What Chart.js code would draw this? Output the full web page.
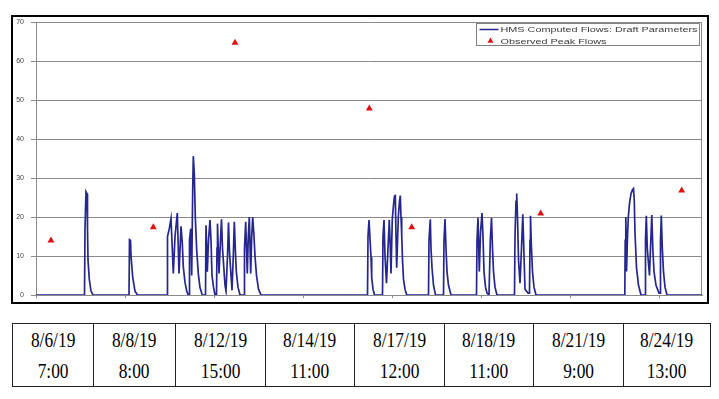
<!DOCTYPE html>
<html lang="en">
<head>
    <meta charset="UTF-8">
    <title>HMS Computed Flows vs Observed Peaks</title>
    <style>
        body {
            margin: 0;
            background: #fff;
            width: 719px;
            height: 399px;
            position: relative;
            overflow: hidden;
        }
        #frame {
            position: absolute;
            left: 11px;
            top: 15px;
            width: 694px;
            height: 285px;
            border: 2px solid #000;
            background: #fff;
        }
        #peaks {
            position: absolute;
            left: 12px;
            top: 323px;
            width: 698px;
            border-collapse: collapse;
            table-layout: fixed;
        }
        #peaks td {
            border: 1px solid #222;
            height: 61px;
            padding: 0;
            text-align: center;
            vertical-align: middle;
            font-family: "Liberation Serif", "Times New Roman", serif;
            font-size: 22px;
            line-height: 31px;
            color: #000;
        }
        #peaks td span {
            display: inline-block;
            transform: scaleX(0.79);
        }
    </style>
</head>
<body>
    <div id="frame"><canvas id="flows"></canvas></div>
    <table id="peaks"><colgroup id="cols"></colgroup><tr id="peakRow"></tr></table>

    <script src="https://cdn.jsdelivr.net/npm/chart.js"></script>
    <script>
        // time index along the x axis (one tick every 89 units)
        const flowT = [
            0,
            48.5, 49, 50, 51, 51.5, 52, 53.3, 55, 57,
            93, 93.5, 94.5, 95, 96.7, 99, 101.5,
            131.3, 131.5, 133.3, 135, 137.3, 139, 141.3, 143, 145, 146.3, 147.3, 149, 150.7, 152.3,
            153.3, 153.5, 154.7, 155.7, 156.7, 157.3, 158.3, 159.3, 160.7, 162.3, 164, 166.3,
            169.5, 170, 171.3, 172.5, 174, 175, 176, 177.5, 179,
            180.5, 181, 181.5, 183, 184.5, 185.5, 186.5, 189, 190, 191.5, 192.5, 193.5, 196, 197.3, 198.3, 199.3, 200.3, 202, 204,
            208, 208.5, 209.7, 211.3, 212.3, 213.3, 214.7, 215.7, 216.7, 218, 219, 220.5, 222.5, 225,
            331.5, 332, 333, 334, 335, 335.7, 337, 338.5,
            346.5, 347, 348, 349, 350.5, 352, 353.3, 354.3, 355, 356.3, 357.5, 358.5, 359.3, 360, 360.7, 362.3, 363.5, 364.3, 365, 365.7, 366.5, 367.5, 369, 370.7,
            392.5, 393, 394.3, 395, 396, 397.5, 399.5,
            407.5, 408, 409, 410, 411, 412.5, 415,
            440.5, 441, 442, 443.3, 444.5, 446, 447, 448, 449.5, 451, 453,
            453.7, 454.3, 455.5, 456.5, 457.5, 459, 461,
            478.5, 479, 480, 480.7, 481.5, 482.5, 484, 485.5, 486.8, 487.8, 489, 492, 493.5, 494, 494.5, 495.3, 496.5, 498, 500,
            588.8, 589.2, 589.8, 590.5, 591.5, 592.3, 593.5, 595, 596.5, 597.5, 598.3, 599, 600.5, 602.5, 605,
            609, 609.5, 610.3, 611.3, 612.5, 613.5, 614.8, 615.8, 616.8, 618, 620, 623, 624, 624.5, 625.3, 626.3, 627.5, 629, 631,
            666
        ];
        // computed flow, same order as flowT
        const flowQ = [
            0,
            0, 17, 26.5, 26, 17, 9, 4, 1, 0,
            0, 14.2, 14, 10, 4.6, 1, 0,
            0, 15, 17, 19.6, 5.5, 14.9, 21, 5.5, 17.6, 13.2, 7.2, 3.3, 1, 0,
            0, 14, 17, 5, 26.8, 35.6, 31, 20, 11.5, 5.5, 1.9, 0,
            0, 17.9, 6, 14, 19.2, 14, 5, 2, 0,
            0, 12, 18.3, 5.5, 14, 19.4, 12, 2.5, 1, 10, 18.6, 11, 1.2, 10, 18.8, 12, 6, 2, 0,
            0, 12, 18.8, 5.5, 15, 20, 5.5, 15, 20, 15, 10, 5, 1.5, 0,
            0, 15, 19.2, 14.5, 9.7, 4.5, 1.5, 0,
            0, 15, 19.2, 10, 3, 12, 19.3, 12, 5.5, 19.5, 23, 25.4, 25.5, 15, 7, 20, 24, 25.5, 20, 15.5, 9, 4, 1.5, 0,
            0, 14, 19.4, 12, 7, 2.5, 0,
            0, 14, 19.5, 12, 6, 2.5, 0,
            0, 14, 19.8, 6, 16, 21, 15, 6, 2, 0.5, 0,
            0, 14, 19.8, 12, 6, 2, 0,
            0, 15, 24, 26, 20, 9, 3, 12, 20.7, 12, 1.5, 0.5, 0.5, 14, 20.3, 13, 6, 2, 0,
            0, 14, 20, 6, 15, 20, 23.5, 26, 27, 27.3, 24, 16, 7, 2.5, 0,
            0, 14, 20.3, 12, 8, 5, 14, 20.5, 12, 6, 2.5, 0.5, 0.5, 14, 20.4, 12, 6, 2, 0,
            0
        ];

        const peakT = [15, 117.3, 199, 333.3, 375.7, 504.7, 645.7];
        const peakQ = [14, 17.4, 64.7, 47.8, 17.4, 20.9, 26.8];

        const peakDates = ['8/6/19', '8/8/19', '8/12/19', '8/14/19', '8/17/19', '8/18/19', '8/21/19', '8/24/19'];
        const peakTimes = ['7:00', '8:00', '15:00', '11:00', '12:00', '11:00', '9:00', '13:00'];
        const colWidths = [81, 82, 90, 89, 90, 89, 90, 87];

        const yTicks = [0, 10, 20, 30, 40, 50, 60, 70];

        // table under the chart
        const cols = document.getElementById('cols');
        const row = document.getElementById('peakRow');
        peakDates.forEach(function(d, i) {
            const c = document.createElement('col');
            c.style.width = colWidths[i] + 'px';
            cols.appendChild(c);
            const td = document.createElement('td');
            td.innerHTML = '<span>' + d + '<br>' + peakTimes[i] + '</span>';
            row.appendChild(td);
        });

        // grey border on the right of the plot area
        const plotBorder = {
            id: 'plotBorder',
            beforeDatasetsDraw(chart) {
                const a = chart.chartArea;
                const ctx = chart.ctx;
                ctx.save();
                ctx.strokeStyle = '#8a8a8a';
                ctx.lineWidth = 1;
                ctx.beginPath();
                ctx.moveTo(Math.round(a.right) - 0.5, a.top);
                ctx.lineTo(Math.round(a.right) - 0.5, a.bottom);
                ctx.stroke();
                ctx.restore();
            }
        };

        // boxed legend sitting in the top right corner of the plot
        const boxLegend = {
            id: 'boxLegend',
            afterDraw(chart) {
                const a = chart.chartArea;
                const ctx = chart.ctx;
                const w = 223, h = 22;
                const left = Math.round(a.right - 3 - w) + 0.5;
                const top = Math.round(a.top + 1) + 0.5;
                ctx.save();
                ctx.fillStyle = '#fff';
                ctx.fillRect(left, top, w, h);
                ctx.strokeStyle = '#808080';
                ctx.lineWidth = 1;
                ctx.strokeRect(left, top, w, h);

                const sets = chart.data.datasets;
                ctx.font = '8px Arial, "Liberation Sans", sans-serif';
                const sx = 197 / ctx.measureText(sets[0].label).width;
                ctx.textBaseline = 'middle';

                // line sample
                ctx.strokeStyle = sets[0].borderColor;
                ctx.lineWidth = 1.5;
                ctx.beginPath();
                ctx.moveTo(left + 3, top + 6);
                ctx.lineTo(left + 22, top + 6);
                ctx.stroke();
                // triangle sample
                ctx.fillStyle = sets[1].backgroundColor;
                Chart.helpers.drawPoint(ctx, {pointStyle: 'triangle', radius: 3.5, borderWidth: 0}, left + 14, top + 17.5);

                ctx.fillStyle = '#3a3a3a';
                [sets[0].label, sets[1].label].forEach(function(txt, i) {
                    ctx.save();
                    ctx.translate(left + 24, top + 6.5 + i * 11.3);
                    ctx.scale(sx, 1);
                    ctx.fillText(txt, 0, 0);
                    ctx.restore();
                });
                ctx.restore();
            }
        };

        const ctx = document.getElementById('flows').getContext('2d');
        const flowChart = new Chart(ctx, {
            type: 'line',
            data: {
                datasets: [{
                    label: 'HMS Computed Flows: Draft Parameters',
                    data: flowT.map(function(t, i) { return {x: t, y: flowQ[i]}; }),
                    borderColor: '#262690',
                    borderWidth: 1.7,
                    pointRadius: 0,
                    tension: 0,
                    fill: false
                }, {
                    type: 'scatter',
                    label: 'Observed Peak Flows',
                    data: peakT.map(function(t, i) { return {x: t, y: peakQ[i]}; }),
                    pointStyle: 'triangle',
                    pointRadius: 4,
                    backgroundColor: '#e01010',
                    borderColor: '#e01010',
                    borderWidth: 0
                }]
            },
            options: {
                responsive: true,
                maintainAspectRatio: false,
                animation: false,
                layout: { autoPadding: false, padding: { top: 5, right: 5, left: 0, bottom: 4 } },
                plugins: {
                    legend: { display: false },
                    tooltip: { enabled: false }
                },
                scales: {
                    x: {
                        type: 'linear',
                        min: 0,
                        max: 666,
                        afterBuildTicks(scale) {
                            scale.ticks = scale.ticks.filter(function(t) { return t.value % 89 === 0; });
                        },
                        afterFit(scale) {
                            scale.height = 3;
                            scale.paddingLeft = 0;
                            scale.paddingRight = 0;
                        },
                        ticks: { display: false, stepSize: 89 },
                        grid: { drawOnChartArea: false, tickLength: 3, color: '#8a8a8a' },
                        border: { color: '#8a8a8a' }
                    },
                    y: {
                        min: 0,
                        max: 70,
                        afterBuildTicks(scale) {
                            scale.ticks = yTicks.map(function(v) { return {value: v}; });
                        },
                        afterFit(scale) {
                            scale.width = 23;
                            scale.paddingTop = 0;
                            scale.paddingBottom = 0;
                        },
                        ticks: {
                            padding: 7,
                            color: '#444',
                            font: { family: 'Arial, "Liberation Sans", sans-serif', size: 7 }
                        },
                        grid: { color: '#8a8a8a', tickLength: 5 },
                        border: { color: '#8a8a8a' }
                    }
                }
            },
            plugins: [plotBorder, boxLegend]
        });
    </script>
</body>
</html>
